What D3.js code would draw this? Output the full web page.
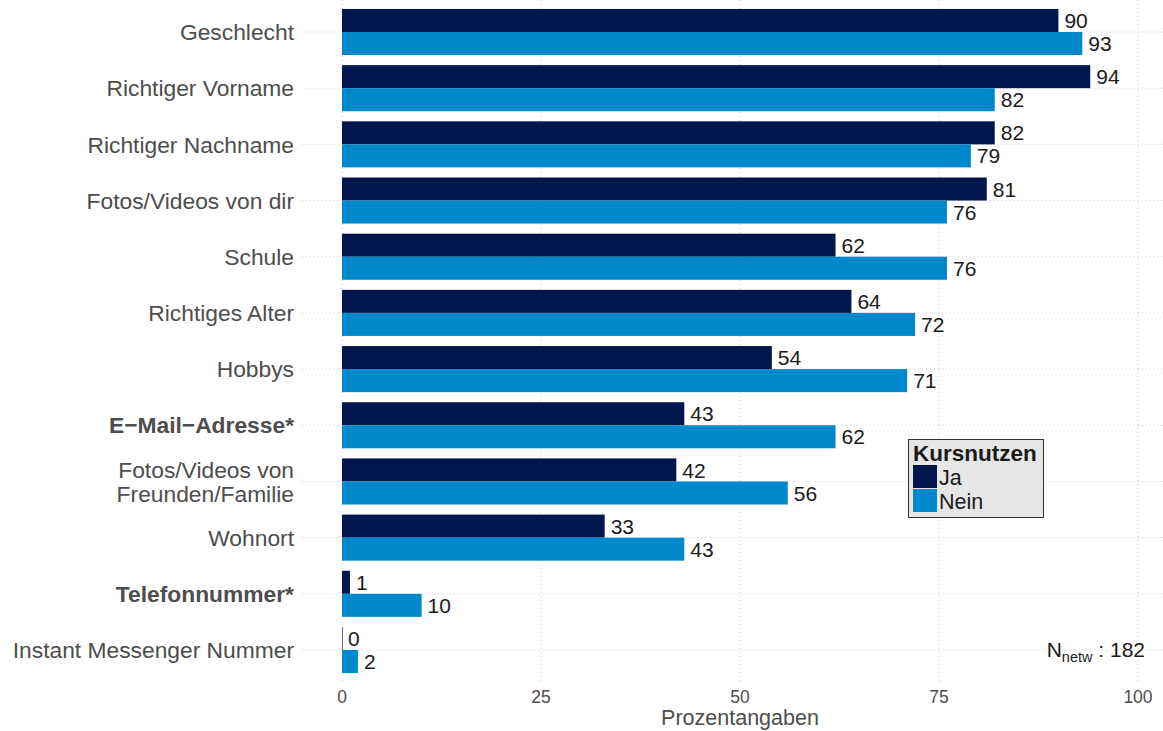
<!DOCTYPE html>
<html><head><meta charset="utf-8">
<script src="https://cdn.jsdelivr.net/npm/d3@7"></script>
<style>
body{margin:0;background:#fff;}
svg{font-family:"Liberation Sans",Arial,Helvetica,sans-serif;}
</style></head>
<body><svg id="c" width="1163" height="731"></svg>
<script>
const categories = ["Geschlecht","Richtiger Vorname","Richtiger Nachname","Fotos/Videos von dir","Schule","Richtiges Alter","Hobbys","E\u2212Mail\u2212Adresse*","Fotos/Videos von\nFreunden/Familie","Wohnort","Telefonnummer*","Instant Messenger Nummer"];
const boldCategories = ["E\u2212Mail\u2212Adresse*","Telefonnummer*"];
const seriesNames = ["Ja","Nein"];
const jaValues = [90,94,82,81,62,64,54,43,42,33,1,0];
const neinValues = [93,82,79,76,76,72,71,62,56,43,10,2];
const xTicks = [0,25,50,75,100];
const colors = ["#00164d","#0088cc"];
const legendTitle = "Kursnutzen";
const xTitle = "Prozentangaben";
const nText = {main:"N", sub:"netw", rest:" : 182"};

const svg = d3.select("#c");
const x = d3.scaleLinear().domain([0,100]).range([342,1138]);
const y = d3.scaleBand().domain(categories).range([3.9,678.1]).paddingInner(0.18).paddingOuter(0.09);
const ySub = d3.scaleBand().domain(seriesNames).range([0,y.bandwidth()]);
const color = d3.scaleOrdinal().domain(seriesNames).range(colors);

// grid
const g = svg.append("g");
g.selectAll(".vg").data(xTicks).join("line")
  .attr("x1",d=>x(d)).attr("x2",d=>x(d)).attr("y1",0).attr("y2",684)
  .attr("stroke","#d0d0d0").attr("stroke-width",1).attr("stroke-dasharray","1,3");
g.selectAll(".hg").data(categories).join("line")
  .attr("x1",302).attr("x2",1163)
  .attr("y1",d=>y(d)+y.bandwidth()/2).attr("y2",d=>y(d)+y.bandwidth()/2)
  .attr("stroke","#d0d0d0").attr("stroke-width",1).attr("stroke-dasharray","1,3");

// bars
const data = [];
categories.forEach((c,i)=>{
  data.push({cat:c, s:"Ja", v:jaValues[i]});
  data.push({cat:c, s:"Nein", v:neinValues[i]});
});
svg.append("g").selectAll("rect").data(data).join("rect")
  .attr("x",x(0))
  .attr("y",d=>y(d.cat)+ySub(d.s))
  .attr("width",d=>Math.max(x(d.v)-x(0), d.v===0?1:0))
  .attr("height",ySub.bandwidth())
  .attr("fill",d=>d.v===0?"#6a6f8a":color(d.s));
svg.append("g").selectAll("text").data(data).join("text")
  .attr("x",d=>x(d.v)+6)
  .attr("y",d=>y(d.cat)+ySub(d.s)+ySub.bandwidth()/2)
  .attr("dy","0.36em")
  .attr("font-size",21).attr("fill","#1a1a1a")
  .text(d=>d.v);

// y labels
const yl = svg.append("g");
categories.forEach(c=>{
  const lines = c.split("\n");
  const cy = y(c)+y.bandwidth()/2;
  const lh = 24;
  const t = yl.append("text")
    .attr("x",294).attr("text-anchor","end")
    .attr("font-size",22.8).attr("fill","#4d4d4d")
    .attr("font-weight",boldCategories.includes(c)?"bold":"normal");
  lines.forEach((l,i)=>{
    t.append("tspan").attr("x",294)
      .attr("y",cy + (i-(lines.length-1)/2)*lh)
      .attr("dy","0.36em").text(l);
  });
});

// x axis tick labels
svg.append("g").selectAll("text").data(xTicks).join("text")
  .attr("x",d=>x(d)).attr("y",697).attr("dy","0.36em")
  .attr("text-anchor","middle").attr("font-size",17.5).attr("fill","#4d4d4d")
  .text(d=>d);
svg.append("text").attr("x",740).attr("y",717).attr("dy","0.36em")
  .attr("text-anchor","middle").attr("font-size",21.5).attr("fill","#4d4d4d")
  .text(xTitle);

// legend
const lg = svg.append("g");
lg.append("rect").attr("x",908.5).attr("y",439.5).attr("width",135).attr("height",78)
  .attr("fill","#e6e6e6").attr("stroke","#333").attr("stroke-width",1);
lg.append("text").attr("x",913).attr("y",461).attr("font-size",22.5).attr("font-weight","bold")
  .attr("fill","#1a1a1a").text(legendTitle);
seriesNames.forEach((s,i)=>{
  lg.append("rect").attr("x",913).attr("y",465+i*24).attr("width",24).attr("height",23)
    .attr("fill",color(s));
  lg.append("text").attr("x",939).attr("y",477+i*24).attr("dy","0.36em")
    .attr("font-size",21.5).attr("fill","#1a1a1a").text(s);
});

// N annotation
const nt = svg.append("text").attr("x",1145).attr("y",657).attr("text-anchor","end")
  .attr("font-size",21).attr("fill","#1a1a1a");
nt.append("tspan").text(nText.main);
nt.append("tspan").attr("font-size",14.5).attr("dy",5).text(nText.sub);
nt.append("tspan").attr("dy",-5).text(nText.rest);
</script></body></html>
